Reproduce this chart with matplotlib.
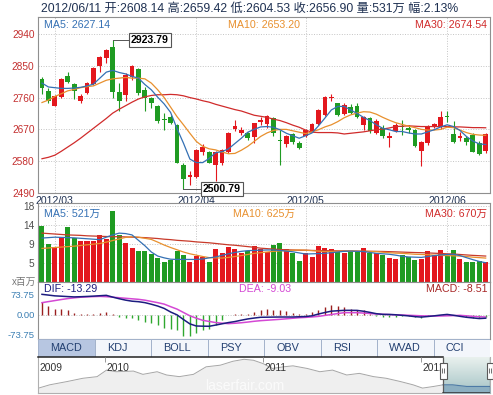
import matplotlib
matplotlib.use("Agg")
import matplotlib.pyplot as plt
import matplotlib.transforms as mtransforms
import numpy as np
from matplotlib.colors import LinearSegmentedColormap
from matplotlib.patches import Rectangle

# ---------------- data ----------------
DATE = "2012/06/11"

OPEN = [2812, 2779, 2737, 2763, 2821, 2799, 2751, 2772, 2798, 2848,
        2871, 2904, 2777, 2768, 2819, 2840, 2782, 2760, 2736, 2699,
        2704, 2683, 2570, 2536, 2534, 2607, 2605, 2568, 2574, 2607,
        2670, 2661, 2659, 2648, 2692, 2685, 2701, 2640, 2629, 2657,
        2631, 2652, 2664, 2686, 2711, 2760, 2744, 2714, 2733, 2736,
        2683, 2702, 2661, 2673, 2645, 2666, 2680, 2675, 2667, 2610,
        2631, 2676, 2676, 2706, 2656, 2647, 2647, 2654, 2631, 2608.14]
HIGH = [2819, 2786, 2768, 2815, 2831, 2802, 2770, 2805, 2846, 2878,
        2897, 2923.79, 2801, 2829, 2852, 2843, 2791, 2763, 2739, 2716,
        2711, 2686, 2574, 2551, 2614, 2628, 2608, 2610, 2615, 2662,
        2697, 2676, 2664, 2689, 2704, 2711, 2706, 2669, 2654, 2661,
        2636, 2671, 2688, 2727, 2765, 2770, 2746, 2744, 2742, 2744,
        2708, 2704, 2699, 2683, 2664, 2688, 2697, 2683, 2671, 2636,
        2683, 2689, 2722, 2722, 2695, 2664, 2652, 2659, 2636, 2659.42]
LOW = [2770, 2744, 2735, 2760, 2802, 2755, 2744, 2769, 2796, 2833,
       2859, 2758, 2722, 2751, 2810, 2768, 2722, 2730, 2689, 2669,
       2685, 2574, 2500.79, 2513, 2532, 2598, 2574, 2523, 2570, 2603,
       2666, 2654, 2640, 2631, 2683, 2673, 2652, 2570, 2620, 2629,
       2614, 2648, 2662, 2683, 2708, 2749, 2708, 2711, 2714, 2702,
       2669, 2661, 2657, 2645, 2621, 2662, 2654, 2659, 2620, 2567,
       2627, 2674, 2671, 2692, 2631, 2636, 2626, 2605, 2597, 2604.53]
CLOSE = [2786, 2751, 2765, 2812, 2805, 2780, 2765, 2800, 2843, 2874,
         2895, 2777, 2749, 2824, 2850, 2772, 2758, 2744, 2695, 2696,
         2689, 2576, 2530, 2540, 2612, 2620, 2576, 2607, 2612, 2659,
         2680, 2667, 2645, 2687, 2697, 2708, 2661, 2637, 2652, 2633,
         2617, 2667, 2685, 2725, 2761, 2763, 2711, 2739, 2716, 2704,
         2704, 2666, 2695, 2650, 2652, 2683, 2678, 2667, 2623, 2634,
         2678, 2686, 2704, 2704, 2633, 2651, 2633, 2607, 2601.49, 2656.90]

MA5 = [2801, 2790, 2788, 2786, 2786, 2787, 2789, 2793, 2798, 2815,
       2832, 2837, 2831, 2827, 2820, 2815, 2797, 2782, 2761, 2742,
       2718, 2672, 2631, 2586, 2576, 2576, 2588, 2604, 2607, 2615,
       2630, 2645, 2662, 2670, 2677, 2678, 2676, 2669, 2659, 2652,
       2645, 2652, 2660, 2680, 2702, 2725, 2735, 2735, 2725, 2715,
       2704, 2695, 2683, 2673, 2669, 2664, 2664, 2660, 2657, 2657,
       2663, 2669, 2677, 2683, 2678, 2667, 2650, 2637, 2629, 2627.14]
MA10 = [2746, 2753, 2763, 2771, 2779, 2783, 2788, 2791, 2793, 2801,
        2809, 2813, 2815, 2817, 2815, 2815, 2813, 2801, 2782, 2760,
        2733, 2706, 2683, 2659, 2636, 2622, 2615, 2612, 2606, 2601,
        2602, 2611, 2622, 2636, 2650, 2660, 2667, 2670, 2670, 2666,
        2662, 2658, 2663, 2669, 2677, 2683, 2692, 2703, 2711, 2716,
        2720, 2719, 2713, 2704, 2696, 2689, 2684, 2679, 2675, 2670,
        2668, 2668, 2670, 2676, 2675, 2668, 2661, 2656, 2654, 2653.20]
MA30 = [2587, 2591, 2597, 2608, 2620, 2632, 2645, 2659, 2673, 2687,
        2701, 2716, 2727, 2737, 2747, 2756, 2762, 2766, 2768, 2768,
        2769, 2768, 2765, 2760, 2756, 2751, 2747, 2741, 2736, 2731,
        2726, 2722, 2716, 2710, 2707, 2704, 2699, 2695, 2689, 2682,
        2676, 2668, 2662, 2661, 2661, 2661, 2660, 2657, 2659, 2661,
        2663, 2666, 2669, 2671, 2674, 2678, 2679, 2680, 2679, 2678,
        2678, 2678, 2678, 2678, 2677, 2677, 2676, 2675, 2675, 2674.54]

# volume in millions (x百万)
VOLUME = [13.3, 9.4, 8.65, 10.9, 13.2, 10.7, 10.15, 10.15, 10.15, 11.4,
          10.45, 16.7, 11.4, 9.7, 8.4, 7.9, 7.8, 7.1, 6.2, 5.3,
          5.8, 7.8, 6.9, 5.3, 6.8, 6.4, 5.4, 8.3, 7.45, 8.8,
          8.3, 7.45, 7.9, 8.95, 8.3, 7.7, 9.2, 9.7, 8.2, 7.45,
          5.6, 7.45, 6.55, 8.95, 8.4, 8.2, 7.9, 7.45, 7.8, 7.7,
          8.4, 7.45, 7.3, 6.9, 6.2, 6.0, 6.9, 6.55, 5.8, 6.0,
          7.8, 6.9, 8.05, 6.8, 8.05, 5.95, 5.4, 5.4, 5.6, 5.31]
VOL_MA5 = [10.7, 10.8, 10.9, 10.85, 10.8, 10.75, 10.65, 10.55, 10.45, 10.35,
           10.9, 11.4, 11.8, 11.7, 11.4, 10.2, 9.0, 7.6, 6.7, 6.3,
           6.0, 5.95, 5.95, 5.95, 5.95, 6.05, 6.3, 6.5, 6.85, 7.2,
           7.5, 7.75, 7.9, 7.95, 8.0, 8.05, 8.05, 7.95, 7.8, 7.65,
           7.4, 7.15, 7.2, 7.25, 7.3, 7.45, 7.6, 7.75, 7.8, 7.75,
           7.7, 7.5, 7.3, 7.2, 7.1, 6.9, 6.65, 6.5, 6.45, 6.4,
           6.6, 6.8, 6.95, 7.05, 7.1, 6.8, 6.35, 5.9, 5.5, 5.21]
VOL_MA10 = [8.4, 8.5, 8.6, 8.7, 8.8, 8.9, 9.05, 9.2, 9.35, 9.5,
            9.8, 10.15, 10.5, 10.85, 11.0, 10.9, 10.65, 10.4, 9.8, 9.15,
            8.6, 8.1, 7.6, 7.2, 6.9, 6.6, 6.35, 6.3, 6.25, 6.4,
            6.6, 6.8, 7.05, 7.3, 7.45, 7.6, 7.75, 7.85, 7.9, 8.0,
            8.05, 8.0, 7.9, 7.8, 7.7, 7.72, 7.75, 7.78, 7.8, 7.78,
            7.75, 7.72, 7.7, 7.55, 7.45, 7.35, 7.3, 7.2, 7.1, 7.05,
            7.0, 6.9, 6.85, 6.8, 6.75, 6.7, 6.6, 6.45, 6.35, 6.25]
VOL_MA30 = [11.8, 11.7, 11.6, 11.5, 11.4, 11.35, 11.3, 11.2, 11.15, 11.1,
            11.05, 11.0, 11.0, 10.95, 10.9, 10.85, 10.8, 10.7, 10.6, 10.45,
            10.35, 10.2, 10.1, 10.0, 9.85, 9.75, 9.65, 9.5, 9.35, 9.2,
            9.1, 8.95, 8.8, 8.65, 8.45, 8.35, 8.25, 8.15, 8.1, 8.05,
            8.0, 8.0, 7.95, 7.92, 7.9, 7.88, 7.86, 7.84, 7.82, 7.8,
            7.78, 7.76, 7.74, 7.72, 7.68, 7.63, 7.58, 7.53, 7.48, 7.45,
            7.4, 7.33, 7.27, 7.2, 7.15, 7.05, 6.95, 6.85, 6.78, 6.70]

DIF = [72.6, 69.9, 67.1, 65.9, 64.5, 63.3, 64.0, 65.0, 66.1, 67.6,
       69.0, 62.6, 56.8, 51.7, 47.9, 46.1, 42.7, 37.0, 30.4, 21.9,
       9.0, -1.3, -18.1, -33.8, -41.4, -42.0, -42.4, -38.1, -33.5, -29.0,
       -25.4, -20.5, -16.0, -12.8, -10.0, -9.7, -9.3, -9.0, -9.0, -9.0,
       -8.2, -7.3, -4.7, 1.7, 7.2, 12.0, 13.5, 15.0, 15.0, 14.8,
       11.7, 7.6, 2.9, 0.5, 0.2, -1.0, -3.0, -5.0, -7.7, -9.3,
       -7.2, -4.8, -2.0, 0.3, -2.8, -6.6, -10.0, -12.3, -14.6, -13.29]
DEA = [42.6, 46.4, 50.1, 53.9, 57.3, 60.0, 62.2, 63.5, 64.4, 65.2,
       64.2, 62.3, 60.4, 58.4, 56.5, 54.6, 51.6, 47.1, 42.6, 37.4,
       28.2, 19.4, 7.3, -4.7, -13.3, -21.0, -25.0, -29.0, -31.3, -32.9,
       -31.5, -29.7, -27.2, -24.4, -22.2, -20.6, -19.0, -17.4, -15.5, -13.5,
       -11.6, -10.4, -8.8, -6.8, -3.3, 0.0, 3.5, 6.6, 6.6, 6.6,
       5.1, 3.6, 1.7, 0.6, -0.3, -1.0, -1.9, -2.8, -3.7, -4.7,
       -5.4, -5.4, -5.4, -4.7, -3.9, -3.0, -4.7, -6.7, -8.1, -9.03]
MACD = [45, 30, 21, 19, 17, 7, 1, 0.5, 0.5, 6,
        9, 1, -9, -12, -13, -20, -27, -31, -39, -47,
        -51, -57, -77, -78, -67, -57, -51, -39, -21, -3,
        1, 2, 3, 9, 18, 21, 15, 15, 11, 7,
        0.5, 1, 9, 15, 27, 33, 31, 27, 19, 15,
        15, 3, -4, -9, -9, -9, -7, -6, -8, -12,
        -5, -3, -2, 0.5, -2, -4, -8, -11, -12, -8.51]

MONTH_IDX = [2, 24, 41, 63]
MONTH_LABELS = ["2012/03", "2012/04", "2012/05", "2012/06"]
PRICE_TICKS = [2490, 2580, 2670, 2760, 2850, 2940]
VOL_TICKS = [5.2, 9.4, 13.6, 17.8]
VOL_TICK_LABELS = ["5", "9", "14", "18"]
MACD_TICKS = [73.75, 0.0, -73.75]

TABS = ["MACD", "KDJ", "BOLL", "PSY", "OBV", "RSI", "WVAD", "CCI"]

# navigator (year, relative level)
NAV_YEAR = [2009.58, 2009.65, 2009.76, 2009.86, 2009.95, 2010.01, 2010.07, 2010.18,
            2010.24, 2010.33, 2010.39, 2010.47, 2010.56, 2010.64, 2010.73, 2010.81,
            2010.88, 2010.94, 2011.00, 2011.06, 2011.13, 2011.19, 2011.28, 2011.36,
            2011.44, 2011.53, 2011.61, 2011.70, 2011.78, 2011.87, 2011.95, 2012.01,
            2012.08, 2012.14, 2012.20, 2012.29, 2012.37, 2012.437]
NAV_VALUE = [15, 25, 35, 45, 50, 70, 65, 67,
             57, 65, 55, 50, 57, 80, 85, 97,
             103, 100, 90, 75, 80, 83, 75, 65,
             70, 55, 60, 50, 45, 35, 25, 15,
             20, 25, 25, 20, 20, 20]
NAV_YEARS = [2010, 2011, 2012]
SEL_START = 2012.14

# ---------------- style ----------------
W, H = 493, 395
LEFT, RIGHT = 38, 490
XLIM = (-0.62, 69.67)

RED = "#e3171d"
GREEN = "#1f9b22"
C_MA5 = "#3470b4"
C_MA10 = "#e8902e"
C_MA30 = "#d02b2b"
GRID = "#c4c4c4"
FRAME = "#8f8f8f"
NAVY = "#1f3152"
DOT = (0, (1, 1.6))

plt.rcParams["font.family"] = ["Liberation Sans", "Noto Sans CJK SC"]

fig = plt.figure(figsize=(W / 100, H / 100), dpi=100)


def px_axes(x0, y0, x1, y1):
    return fig.add_axes([x0 / W, 1 - y1 / H, (x1 - x0) / W, (y1 - y0) / H])


def px_text(x, y, s, **kw):
    fig.text(x / W, 1 - y / H, s, va="center", **kw)


def frame(ax):
    for sp in ax.spines.values():
        sp.set_color(FRAME)
        sp.set_linewidth(0.8)
    ax.set_xticks([])
    ax.tick_params(axis="y", length=0, pad=2.5)
    ax.set_xlim(*XLIM)


idx = np.arange(len(CLOSE))
o, h, l, c = (np.array(a, dtype=float) for a in (OPEN, HIGH, LOW, CLOSE))
colors = np.where(c >= o, RED, GREEN)

# ---------------- price panel ----------------
ax = px_axes(LEFT, 17, RIGHT, 193)
frame(ax)
ax.set_ylim(2490, 2988)
for y in PRICE_TICKS[1:]:
    ax.axhline(y, color=GRID, lw=0.7, ls=DOT, zorder=0)
for m in MONTH_IDX:
    ax.axvline(m, color=GRID, lw=0.7, ls=DOT, zorder=0)
ax.vlines(idx, l, h, colors=colors, lw=0.8, zorder=2)
ax.bar(idx, np.maximum(np.abs(c - o), 2.5), bottom=np.minimum(o, c), width=0.74,
       color=colors, lw=0, zorder=3)
ax.plot(idx, MA30, color=C_MA30, lw=0.9, zorder=4)
ax.plot(idx, MA10, color=C_MA10, lw=0.9, zorder=4)
ax.plot(idx, MA5, color=C_MA5, lw=0.9, zorder=4)
ax.set_yticks(PRICE_TICKS)
ax.set_yticklabels([str(t) for t in PRICE_TICKS], color="#c43030", fontsize=7.3)

ih, il = int(np.argmax(h)), int(np.argmin(l))
box = dict(boxstyle="square,pad=0.2", fc="white", ec="#555555", lw=0.8)
ax.plot([ih, ih + 2.4], [h[ih], h[ih]], color="#555555", lw=0.7, zorder=5)
ax.text(ih + 2.8, h[ih], f"{h[ih]:.2f}", ha="left", va="center", fontsize=7.6,
        fontweight="bold", bbox=box, zorder=6)
ax.plot([il, il + 2.6], [l[il], l[il]], color="#555555", lw=0.7, zorder=5)
ax.text(il + 3.0, l[il], f"{l[il]:.2f}", ha="left", va="center", fontsize=7.6,
        fontweight="bold", bbox=box, zorder=6, clip_on=False)

trans = mtransforms.blended_transform_factory(ax.transData, ax.transAxes)
for m, lab in zip(MONTH_IDX, MONTH_LABELS):
    ax.text(m, -8 / 176, lab, transform=trans, ha="center", va="center",
            fontsize=7.6, color=NAVY)

px_text(44, 24.5, f"MA5: {MA5[-1]:.2f}", color=C_MA5, fontsize=7.7)
px_text(228, 24.5, f"MA10: {MA10[-1]:.2f}", color=C_MA10, fontsize=7.7)
px_text(487, 24.5, f"MA30: {MA30[-1]:.2f}", color=C_MA30, fontsize=7.7, ha="right")

chg = (c[-1] / c[-2] - 1) * 100
px_text(41, 8.5, f"{DATE} 开:{o[-1]:.2f} 高:{h[-1]:.2f} 低:{l[-1]:.2f} "
        f"收:{c[-1]:.2f} 量:{VOLUME[-1] * 100:.0f}万 幅:{chg:.2f}%",
        color=NAVY, fontsize=8.8)

# ---------------- volume panel ----------------
av = px_axes(LEFT, 203, RIGHT, 282)
frame(av)
av.set_ylim(0.93, 18.5)
for y in VOL_TICKS:
    av.axhline(y, color=GRID, lw=0.7, ls=DOT, zorder=0)
for m in MONTH_IDX:
    av.axvline(m, color=GRID, lw=0.7, ls=DOT, zorder=0)
av.bar(idx, VOLUME, width=0.78, color=colors, lw=0, zorder=2)
av.plot(idx, VOL_MA30, color="#c83a2a", lw=0.9, zorder=3)
av.plot(idx, VOL_MA10, color=C_MA10, lw=0.9, zorder=3)
av.plot(idx, VOL_MA5, color=C_MA5, lw=0.9, zorder=3)
av.set_yticks(VOL_TICKS)
av.set_yticklabels(VOL_TICK_LABELS, color="#505050", fontsize=7.3)
px_text(44, 214, f"MA5: {VOL_MA5[-1] * 100:.0f}万", color=C_MA5, fontsize=7.7)
px_text(233, 214, f"MA10: {VOL_MA10[-1] * 100:.0f}万", color=C_MA10, fontsize=7.7)
px_text(487, 214, f"MA30: {VOL_MA30[-1] * 100:.0f}万", color=C_MA30, fontsize=7.7,
        ha="right")
px_text(12, 282, "x百万", color="#777777", fontsize=7)

# ---------------- MACD panel ----------------
am = px_axes(LEFT, 282, RIGHT, 339)
frame(am)
am.set_ylim(-88.2, 117)
am.axhline(0, color=GRID, lw=0.7, ls=DOT, zorder=0)
hist = np.array(MACD)
am.vlines(idx, 0, hist, colors=np.where(hist >= 0, "#9a1f1f", "#2fa82f"), lw=1.0, zorder=2)
am.plot(idx, DEA, color="#d448d4", lw=1.1, zorder=3)
am.plot(idx, DIF, color="#1c1c80", lw=1.1, zorder=4)
am.set_yticks(MACD_TICKS)
am.set_yticklabels([f"{t:.2f}" for t in MACD_TICKS], color="#3b7fb3", fontsize=6.8)
px_text(44, 288.5, f"DIF: {DIF[-1]:.2f}", color="#1c1c80", fontsize=7.7)
px_text(239, 288.5, f"DEA: {DEA[-1]:.2f}", color="#d448d4", fontsize=7.7)
px_text(487, 288.5, f"MACD: {MACD[-1]:.2f}", color="#a82828", fontsize=7.7, ha="right")

# ---------------- indicator tabs ----------------
at = px_axes(LEFT, 339, RIGHT, 357)
at.set_xlim(0, len(TABS))
at.set_ylim(0, 1)
at.axis("off")
for k, name in enumerate(TABS):
    fc = "#b7c6e1" if k == 0 else "#f3f6fb"
    at.add_patch(Rectangle((k, 0), 1, 1, fc=fc, ec="#a3b2cb", lw=0.7))
    at.text(k + 0.22, 0.5, name, ha="left", va="center", fontsize=7.8, color="#223f70")

# ---------------- navigator ----------------
an = px_axes(LEFT, 357, RIGHT, 393)
t0, t1 = 2009.576, 2012.437
an.set_xticks([])
an.set_yticks([])
for name, sp in an.spines.items():
    sp.set_color("#b0b0b0")
    sp.set_linewidth(0.8)
an.spines["top"].set_visible(False)

ny = np.array(NAV_YEAR)
nv = np.array(NAV_VALUE)
an.fill_between(ny, nv, 0, color="#efefef", lw=0, zorder=1)
an.plot(ny, nv, color="#a6a6a6", lw=0.7, zorder=2)

cmap = LinearSegmentedColormap.from_list("sel", ["#a6c4c6", "#e9f1ee"])
an.imshow(np.linspace(0, 1, 64).reshape(-1, 1), extent=[SEL_START, t1, 0, 110],
          origin="lower", aspect="auto", cmap=cmap, zorder=3)
sel = ny >= SEL_START
an.fill_between(ny[sel], nv[sel], 0, color="#8cafc1", lw=0, zorder=4)
an.plot(ny[sel], nv[sel], color="#4d7aa6", lw=0.8, zorder=5)
an.set_xlim(t0, t1)
an.set_ylim(0, 110)

an.plot([t0, SEL_START], [110, 110], color="#222222", lw=1.1, zorder=6, clip_on=False)
an.vlines([SEL_START, t1 - 0.002], 0, 110, color="#5a5a5a", lw=0.9, zorder=6)
an.plot([SEL_START, t1], [0.8, 0.8], color="#333333", lw=1.1, zorder=6)

an.vlines(NAV_YEARS, 96, 110, color="#9a9a9a", lw=0.7, zorder=6)
for yr in NAV_YEARS:
    an.text(yr + 0.008, 76, str(yr), ha="left", va="center", fontsize=7.4,
            color="#333333", zorder=6)
an.text(t0 + 0.012, 76, "2009", ha="left", va="center", fontsize=7.4, color="#333333",
        zorder=6)
an.text(2010.886, 22, "laserfair.com", ha="center", va="center", fontsize=10,
        color="white", alpha=0.75, zorder=3)

hw = 0.022
for s in (SEL_START, t1):
    an.add_patch(Rectangle((s - hw, 43), 2 * hw, 49, fc="white", ec="#5a5a5a", lw=0.8,
                           zorder=7, clip_on=False))
    an.vlines([s - 0.007, s + 0.007], 60, 76, color="#5a5a5a", lw=0.6, zorder=8,
              clip_on=False)

fig.savefig("out.png", dpi=100)
